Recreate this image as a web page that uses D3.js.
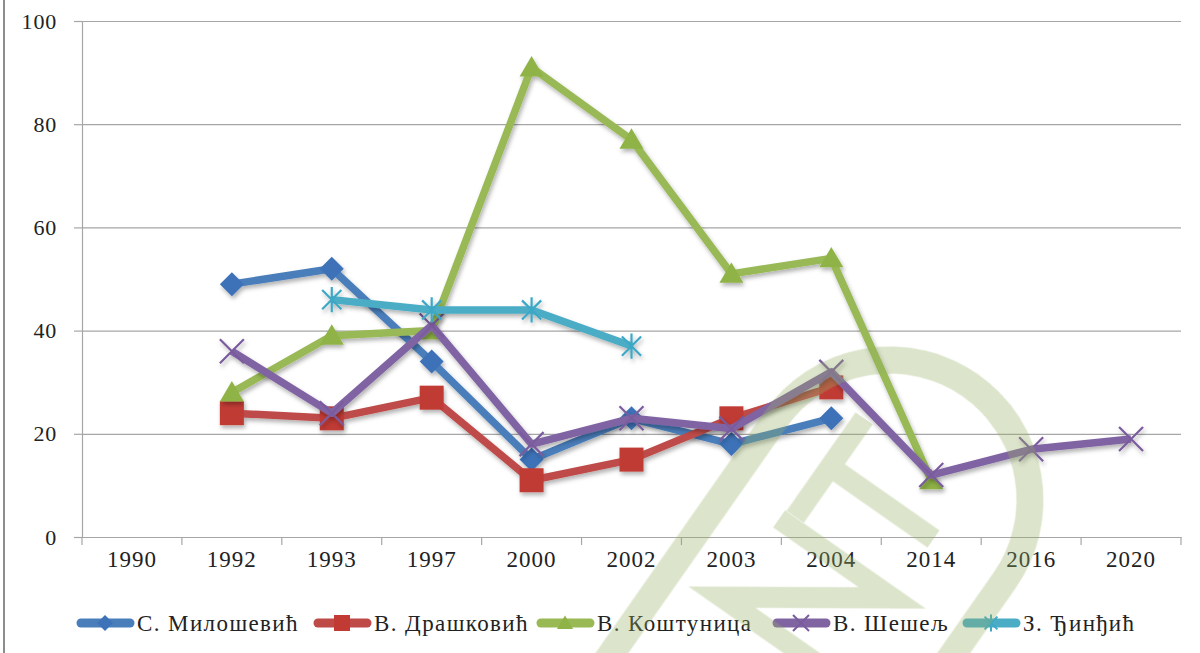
<!DOCTYPE html>
<html>
<head>
<meta charset="utf-8">
<script src="https://cdn.jsdelivr.net/npm/d3@7"></script>
<style>
  body { margin: 0; background: #fff; }
  svg { display: block; }
  text { font-family: "Liberation Serif", "Times New Roman", serif; fill: #222; }
</style>
</head>
<body>
<svg id="chart" width="1200" height="653"></svg>
<script>
// values (null = no value that year)
var categories = ["1990","1992","1993","1997","2000","2002","2003","2004","2014","2016","2020"];
var milosevic = [null, 49, 52, 34, 15, 23, 18, 23, null, null, null];
var draskovic = [null, 24, 23, 27, 11, 15, 23, 29, null, null, null];
var kostunica = [null, 28, 39, 40, 91, 77, 51, 54, 11, null, null];
var seselj    = [null, 36, 24, 41, 18, 23, 21, 32, 12, 17, 19];
var djindjic  = [null, null, 46, 44, 44, 37, null, null, null, null, null];
var seriesNames = ["С. Милошевић", "В. Драшковић", "В. Коштуница", "В. Шешељ", "З. Ђинђић"];
var yTicks = [0, 20, 40, 60, 80, 100];

var series = [
  {name: seriesNames[0], values: milosevic, color: "#4a7ebb", mark: "#3d72b8", shape: "diamond"},
  {name: seriesNames[1], values: draskovic, color: "#be4b48", mark: "#c13a34", shape: "square"},
  {name: seriesNames[2], values: kostunica, color: "#98b954", mark: "#8fb346", shape: "triangle"},
  {name: seriesNames[3], values: seselj, color: "#8064a2", mark: "#7a5c9e", shape: "x"},
  {name: seriesNames[4], values: djindjic, color: "#4bacc6", mark: "#3ea8c6", shape: "star"}
];

var svg = d3.select("#chart");
var plotL = 82, plotR = 1181, plotT = 21, plotB = 537;

var x = d3.scaleBand().domain(categories).range([plotL, plotR]).padding(0);
var y = d3.scaleLinear().domain([0, 100]).range([plotB, plotT]);

var defs = svg.append("defs");
var f = defs.append("filter").attr("id", "shadow")
  .attr("x", "-20%").attr("y", "-20%").attr("width", "140%").attr("height", "140%");
f.append("feDropShadow").attr("dx", 1.5).attr("dy", 3).attr("stdDeviation", 2)
  .attr("flood-color", "#000").attr("flood-opacity", 0.3);

// outer frame line on the left
svg.append("line").attr("x1", 4).attr("x2", 4).attr("y1", 0).attr("y2", 653)
  .attr("stroke", "#8c8c8c").attr("stroke-width", 2);

// gridlines
svg.append("g").attr("transform", "translate(" + plotL + ",0)")
  .call(d3.axisLeft(y).tickValues(yTicks).tickSize(-(plotR - plotL)).tickFormat(""))
  .call(function (g) {
    g.select(".domain").remove();
    g.selectAll("line").attr("stroke", "#a6a6a6").attr("stroke-width", 1.2);
  });

// y axis
svg.append("g").attr("transform", "translate(" + plotL + ",0)")
  .call(d3.axisLeft(y).tickValues(yTicks).tickSize(8).tickPadding(17))
  .call(function (g) {
    g.select(".domain").attr("stroke", "#a6a6a6").attr("stroke-width", 1.2);
    g.selectAll("line").attr("stroke", "#a6a6a6").attr("stroke-width", 1.2);
    g.selectAll("text").style("font-size", "22px").style("font-family", "Liberation Serif")
      .style("letter-spacing", "0.8px").attr("fill", "#222");
  });

// x axis: labels centred in bands, ticks on band edges
svg.append("g").attr("transform", "translate(0," + plotB + ")")
  .call(d3.axisBottom(x).tickSize(0).tickPadding(14))
  .call(function (g) {
    g.select(".domain").attr("stroke", "#a6a6a6").attr("stroke-width", 1.2);
    g.selectAll("text").style("font-size", "23px").style("font-family", "Liberation Serif")
      .style("letter-spacing", "1px").attr("fill", "#222");
  });
var edges = categories.map(function (c) { return x(c); }).concat([plotR]);
svg.append("g").selectAll("line").data(edges).enter().append("line")
  .attr("x1", function (d) { return d; }).attr("x2", function (d) { return d; })
  .attr("y1", plotB).attr("y2", plotB + 8)
  .attr("stroke", "#a6a6a6").attr("stroke-width", 1.2);

function markerPath(shape, s) {
  var h = s / 2;
  if (shape === "diamond") return "M0," + (-h) + "L" + h + ",0L0," + h + "L" + (-h) + ",0Z";
  if (shape === "square") return "M" + (-h) + "," + (-h) + "H" + h + "V" + h + "H" + (-h) + "Z";
  if (shape === "triangle") return "M0," + (-h * 0.95) + "L" + h + "," + (h * 0.75) + "L" + (-h) + "," + (h * 0.75) + "Z";
  if (shape === "x") return "M" + (-h) + "," + (-h) + "L" + h + "," + h + "M" + (-h) + "," + h + "L" + h + "," + (-h);
  // star: X plus vertical bar
  return "M" + (-h * 0.8) + "," + (-h * 0.8) + "L" + (h * 0.8) + "," + (h * 0.8) +
    "M" + (-h * 0.8) + "," + (h * 0.8) + "L" + (h * 0.8) + "," + (-h * 0.8) +
    "M0," + (-h * 1.05) + "V" + (h * 1.05);
}
var markSize = {diamond: 24, square: 24, triangle: 24, x: 24, star: 24};

var line = d3.line()
  .defined(function (d) { return d.v !== null; })
  .x(function (d) { return x(d.c) + x.bandwidth() / 2; })
  .y(function (d) { return y(d.v); });

series.forEach(function (s) {
  var pts = categories.map(function (c, i) { return {c: c, v: s.values[i]}; });
  var g = svg.append("g").attr("filter", "url(#shadow)");
  g.append("path").datum(pts).attr("d", line)
    .attr("fill", "none").attr("stroke", s.color).attr("stroke-width", 7.5)
    .attr("stroke-linejoin", "round");
  var stroked = s.shape === "x" || s.shape === "star";
  g.selectAll(".m").data(pts.filter(function (d) { return d.v !== null; })).enter()
    .append("path")
    .attr("transform", function (d) { return "translate(" + (x(d.c) + x.bandwidth() / 2) + "," + y(d.v) + ")"; })
    .attr("d", markerPath(s.shape, markSize[s.shape]))
    .attr("fill", stroked ? "none" : s.mark)
    .attr("stroke", stroked ? s.mark : "none")
    .attr("stroke-width", stroked ? 2.2 : 0);
});

// legend
var legendX = [77, 314, 537, 773, 963];
var lg = svg.append("g");
series.forEach(function (s, i) {
  var x0 = legendX[i], ly = 623;
  var it = lg.append("g");
  it.append("line").attr("x1", x0 + 4).attr("x2", x0 + 53).attr("y1", ly).attr("y2", ly)
    .attr("stroke", s.color).attr("stroke-width", 9).attr("stroke-linecap", "round");
  var stroked = s.shape === "x" || s.shape === "star";
  it.append("path").attr("transform", "translate(" + (x0 + 28) + "," + ly + ")")
    .attr("d", markerPath(s.shape, 16))
    .attr("fill", stroked ? "none" : s.mark)
    .attr("stroke", stroked ? s.mark : "none")
    .attr("stroke-width", stroked ? 2 : 0);
  it.append("text").attr("x", x0 + 60).attr("y", ly + 8)
    .style("font-size", "23px").style("letter-spacing", "1.4px").text(s.name);
});

// faint logo watermark over the chart
var wm = svg.append("g")
  .attr("transform", "translate(890,500) rotate(35)")
  .attr("fill", "none").attr("stroke", "rgb(150,175,100)").attr("stroke-opacity", 0.33);
wm.append("path").attr("d", "M-140,320V0A140,140 0 0 1 140,0V320").attr("stroke-width", 27);
wm.append("path").attr("d", "M-68,-52V68M-68,7H58").attr("stroke-width", 21);
wm.append("path").attr("d", "M-80,79H58L-82,176H70").attr("stroke-width", 21).attr("stroke-linejoin", "miter");
</script>
</body>
</html>
